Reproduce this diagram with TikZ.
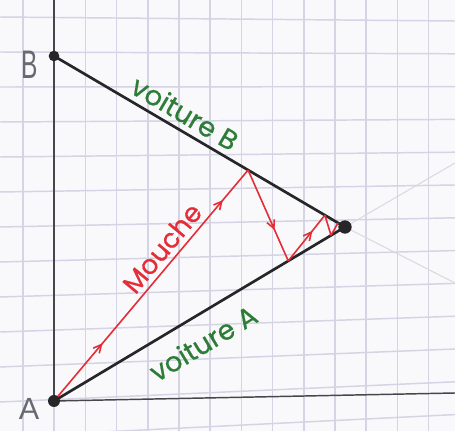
\documentclass[tikz,border=0pt]{standalone}
\usepackage{fontspec}
\setmainfont{Liberation Sans}
\newfontfamily\hand{Poppins}[FakeBold=0.6]
\usetikzlibrary{arrows.meta,decorations.markings,calc}
\definecolor{gridc}{RGB}{212,212,228}
\definecolor{paper}{RGB}{249,249,252}
\definecolor{ink}{RGB}{38,38,40}
\definecolor{axisc}{RGB}{70,70,75}
\definecolor{fly}{RGB}{228,45,55}
\definecolor{greenink}{RGB}{45,125,55}
\definecolor{pencil}{RGB}{105,105,115}
\definecolor{faintc}{RGB}{218,218,224}
\begin{document}
\begin{tikzpicture}[x=0.75pt,y=-0.75pt,
  gridline/.style={draw=gridc,line width=1.1pt},
  axisline/.style={draw=axisc,line width=1.1pt},
  road/.style={draw=ink,line width=2pt,line cap=round},
  faintline/.style={draw=faintc,line width=0.8pt},
  flyline/.style={draw=fly,line width=1.2pt,line join=round},
  flymark/.style={postaction={decorate,decoration={markings,
      mark=at position #1 with {\arrow[fly,line width=1.2pt]{Straight Barb[length=6pt,width=6pt]}}}}},
  dot/.style={circle,fill=ink,inner sep=0pt,minimum size=#1},
  penlabel/.style={text=pencil,font=\fontsize{23}{23}\selectfont,inner sep=0pt},
  greenlabel/.style={text=greenink,font=\hand\fontsize{20.5}{20.5}\selectfont,inner sep=0pt},
  redlabel/.style={text=fly,font=\hand\fontsize{20}{20}\selectfont,inner sep=0pt}]
\fill[paper] (0,0) rectangle (455,431);
\useasboundingbox (0,0) rectangle (455,431);
\begin{scope}
\clip (0,0) rectangle (455,431);
\foreach \k in {0,...,13} \draw[gridline] ({23+31.2*\k},0) -- ({23+31.2*\k},431);
\foreach \k in {0,...,12} \draw[gridline] (0,{17+35*\k}) -- (455,{21+32.8*\k});
\end{scope}
% main points
\coordinate (A) at (54,401);
\coordinate (B) at (54,56);
\coordinate (C) at (345,227);
\coordinate (T) at (54,0);
\coordinate (E) at (455,393);
\coordinate (F1) at (455,163);
\coordinate (F2) at (455,283);
% axes
\draw[axisline] (A) -- (T);
\draw[axisline] (A) -- (E);
% faint extensions
\draw[faintline] (C) -- (F1);
\draw[faintline] (C) -- (F2);
% cars' paths
\draw[road] (B) -- (C);
\draw[road] (A) -- (C);
% fly's path
\coordinate (P1) at ($(B)!0.667!(C)$);
\coordinate (P2) at ($(A)!0.805!(C)$);
\coordinate (P3) at ($(B)!0.931!(C)$);
\coordinate (P4) at ($(A)!0.952!(C)$);
\coordinate (P5) at ($(B)!0.976!(C)$);
\draw[flyline,flymark=0.25,flymark=0.87] (A) -- (P1);
\draw[flyline,flymark=0.66] (P1) -- (P2);
\draw[flyline,flymark=0.66] (P2) -- (P3);
\draw[flyline] (P3) -- (P4);
\draw[flyline] (P4) -- (P5);
% dots
\node[dot=9pt] (a) at (A) {};
\node[dot=8pt] (b) at (B) {};
\node[dot=10pt] (c) at (C) {};
% labels
\node[penlabel,xscale=0.8,yscale=1.3] (labB) at (30,65) {B};
\node[penlabel] (labA) at (29,409) {A};
\node[greenlabel,rotate=-30.3] (vB) at (185,113) {voiture B};
\node[greenlabel,rotate=31] (vA) at (203,343) {voiture A};
\node[redlabel,rotate=50.4] (m) at (162,248) {Mouche};
\end{tikzpicture}
\end{document}
